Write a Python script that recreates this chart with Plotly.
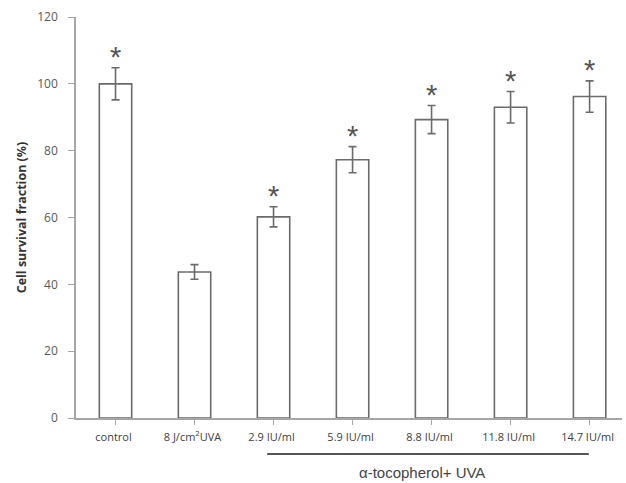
import plotly.graph_objects as go

categories = ["control", "8 J/cm<sup>2</sup>UVA", "2.9 IU/ml", "5.9 IU/ml",
              "8.8 IU/ml", "11.8 IU/ml", "14.7 IU/ml"]
survival = [100.0, 43.7, 60.2, 77.3, 89.3, 93.0, 96.2]
errors = [4.8, 2.2, 3.0, 3.9, 4.2, 4.7, 4.7]
significant = [True, False, True, True, True, True, True]
y_ticks = [0, 20, 40, 60, 80, 100, 120]

x_idx = list(range(len(categories)))
line_col = "#6b6b6b"
axis_col = "#a6a6a6"
text_col = "#595959"

fig = go.Figure()
fig.add_trace(go.Bar(
    x=x_idx, y=survival, width=0.41,
    marker=dict(color="white", line=dict(color=line_col, width=1.6)),
    error_y=dict(type="data", array=errors, visible=True, color=line_col,
                 thickness=1.6, width=4),
    showlegend=False, hoverinfo="skip",
))

annotations = []
for i, (v, e, s) in enumerate(zip(survival, errors, significant)):
    if s:
        annotations.append(dict(
            x=i, y=v + e, xref="x", yref="y", text="*", showarrow=False,
            yanchor="bottom", yshift=-7,
            font=dict(family="Liberation Sans, Arial", size=29, color="#555555"),
        ))

annotations.append(dict(
    x=3.88, y=-0.1347, xref="x", yref="paper", text="α-tocopherol+ UVA",
    showarrow=False, yanchor="middle",
    font=dict(family="Liberation Sans, Arial", size=15, color="#444444"),
))

fig.add_shape(type="line", xref="x", yref="paper",
              x0=1.92, x1=5.99, y0=-0.0898, y1=-0.0898,
              line=dict(color="#555555", width=2))

fig.update_layout(
    width=626, height=483,
    margin=dict(l=76, r=4, t=17, b=65),
    paper_bgcolor="white", plot_bgcolor="white",
    annotations=annotations,
    xaxis=dict(
        range=[-0.5, 6.41], tickmode="array", tickvals=x_idx, ticktext=categories,
        tickson="boundaries", ticks="outside", ticklen=5, tickcolor=axis_col,
        showline=True, linecolor=axis_col, linewidth=1.5, showgrid=False,
        zeroline=False, tickangle=0, ticklabelshift=-2, ticklabelstandoff=3,
        tickfont=dict(family="Open Sans, sans-serif", size=11, color="#404040"),
    ),
    yaxis=dict(
        range=[0, 120], tickmode="array", tickvals=y_ticks,
        ticks="outside", ticklen=6, tickcolor=axis_col,
        showline=True, linecolor=axis_col, linewidth=1.5, showgrid=False,
        zeroline=False, ticklabelstandoff=8,
        tickfont=dict(family="Open Sans, sans-serif", size=12, color=text_col),
        title=dict(text="<b>Cell survival fraction (%)</b>", standoff=8,
                   font=dict(family="Open Sans, sans-serif", size=12.5, color="#333333")),
    ),
)

fig.write_html("out.html", config={"displayModeBar": False},
               post_script="document.body.style.margin='0';")
